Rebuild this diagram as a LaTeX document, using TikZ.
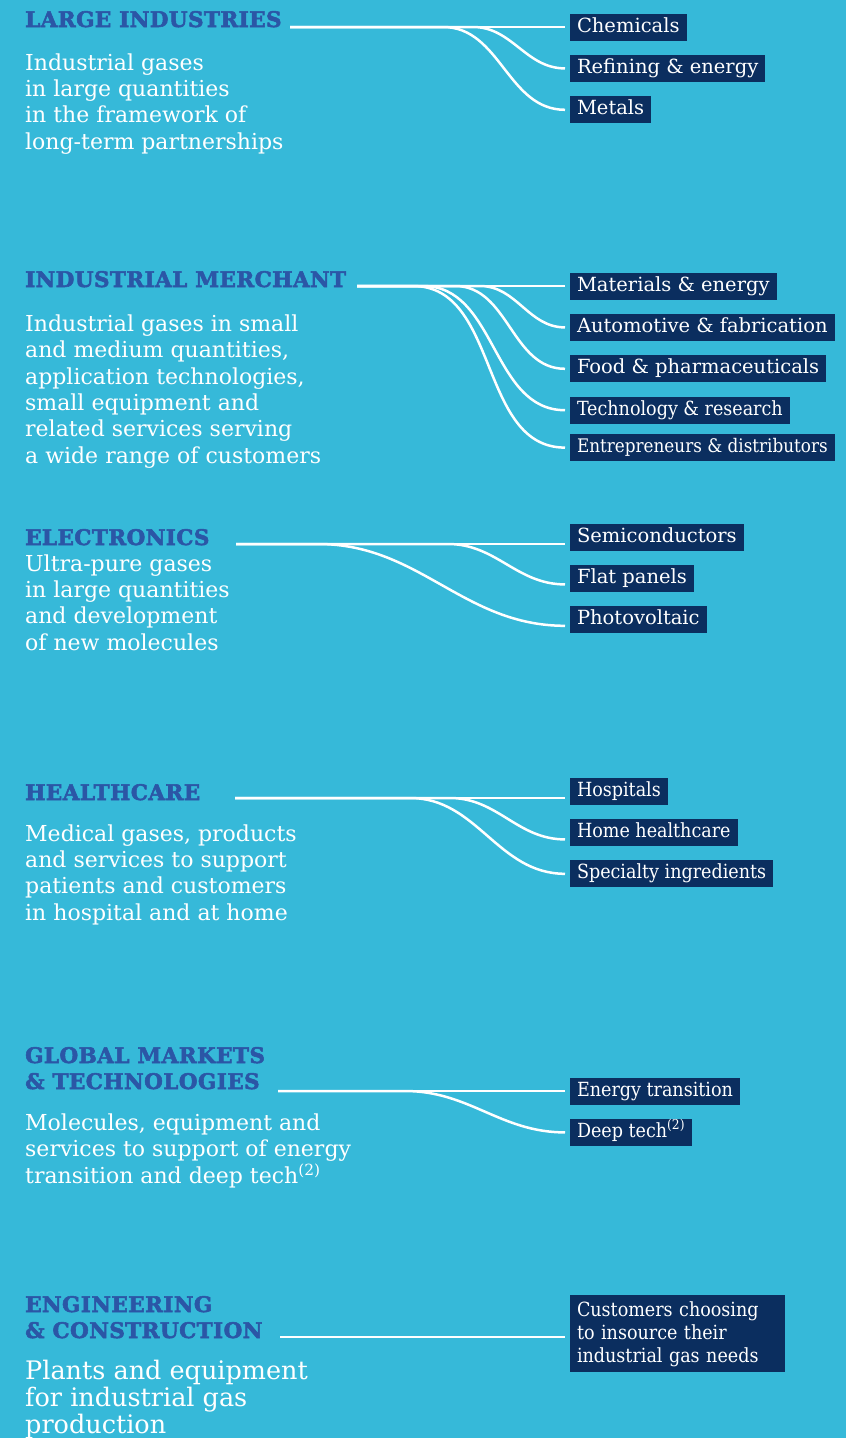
\documentclass[tikz,border=0pt]{standalone}
\usepackage{fontspec}
\setmainfont{DejaVu Serif}
\newfontfamily\narrowfont{DejaVu Serif Condensed}
\newfontfamily\headfont[FakeBold=2.5, LetterSpace=2]{DejaVu Serif Bold}
\usetikzlibrary{positioning}

\definecolor{sky}{HTML}{36B9D9}
\definecolor{ink}{HTML}{2B56A6}
\definecolor{navy}{HTML}{0B2E5F}

\begin{document}
\begin{tikzpicture}[x=1pt, y=-1pt]
  \tikzstyle{segment} = [anchor=base west, inner sep=0pt, align=left, text=ink,
    font=\headfont\fontsize{21.5}{26}\selectfont]
  \tikzstyle{blurb} = [anchor=base west, inner sep=0pt, align=left, text=white,
    font=\fontsize{22}{26.3}\selectfont]
  \tikzstyle{market} = [anchor=west, fill=navy, text=white, font=\narrowfont\fontsize{19.5}{23}\selectfont,
    inner xsep=7pt, inner ysep=4.5pt, text height=14pt, text depth=4pt, outer xsep=5pt]
  \tikzstyle{wide} = [font=\fontsize{19.5}{23}\selectfont]
  \tikzstyle{line} = [draw=white, line width=2.5pt]

  \useasboundingbox (0,0) rectangle (846,1438);
  \fill [sky] (0,0) rectangle (846,1438);

  % Large industries
  \node [segment] (large) at (25,27) {LARGE INDUSTRIES};
  \node [blurb] (largetxt) at (25,149) {Industrial gases\\in large quantities\\in the framework of\\long-term partnerships};
  \node [market, wide] (chem) at (565,27) {Chemicals};
  \node [market, wide, below=14pt of chem.south west, anchor=north west] (refin) {Refining \& energy};
  \node [market, wide, below=14pt of refin.south west, anchor=north west] (metals) {Metals};
  \coordinate (li) at (290,27);
  \path [line] (li) -- (chem.west);
  \path [line] (li) -- ++(183,0) to[out=0, in=180] (refin.west);
  \path [line] (li) -- ++(153,0) to[out=0, in=180] (metals.west);

  % Industrial merchant
  \node [segment] (merchant) at (25,287) {INDUSTRIAL MERCHANT};
  \node [blurb] (merchanttxt) at (25,463) {Industrial gases in small\\and medium quantities,\\application technologies,\\small equipment and\\related services serving\\a wide range of customers};
  \node [market, wide] (mater) at (565,286) {Materials \& energy};
  \node [market, wide, below=14pt of mater.south west, anchor=north west] (auto) {Automotive \& fabrication};
  \node [market, wide, below=14pt of auto.south west, anchor=north west] (food) {Food \& pharmaceuticals};
  \node [market, below=14pt of food.south west, anchor=north west] (tech) {Technology \& research};
  \node [market, font=\narrowfont\fontsize{18.7}{23}\selectfont,
    below=10pt of tech.south west, anchor=north west] (entre) {Entrepreneurs \& distributors};
  \coordinate (lm) at (357,286);
  \path [line] (lm) -- (mater.west);
  \path [line] (lm) -- ++(123,0) to[out=0, in=180] (auto.west);
  \path [line] (lm) -- ++(98,0) to[out=0, in=180] (food.west);
  \path [line] (lm) -- ++(66,0) to[out=0, in=180] (tech.west);
  \path [line] (lm) -- ++(56,0) to[out=0, in=180] (entre.west);

  % Electronics
  \node [segment] (electro) at (25,545) {ELECTRONICS};
  \node [blurb] (electrotxt) at (25,650) {Ultra-pure gases\\in large quantities\\and development\\of new molecules};
  \node [market, wide] (semi) at (565,537) {Semiconductors};
  \node [market, wide, below=14pt of semi.south west, anchor=north west] (flat) {Flat panels};
  \node [market, wide, below=14pt of flat.south west, anchor=north west] (photo) {Photovoltaic};
  \coordinate (le) at (236,544);
  \path [line] (le) -- (le -| semi.west);
  \path [line] (le) -- ++(212,0) to[out=0, in=180] ([yshift=-6pt]flat.west);
  \path [line] (le) -- ++(82,0) to[out=0, in=180] ([yshift=-6pt]photo.west);

  % Healthcare
  \node [segment] (health) at (25,800) {HEALTHCARE};
  \node [blurb] (healthtxt) at (25,920) {Medical gases, products\\and services to support\\patients and customers\\in hospital and at home};
  \node [market] (hosp) at (565,791) {Hospitals};
  \node [market, below=14pt of hosp.south west, anchor=north west] (home) {Home healthcare};
  \node [market, below=14pt of home.south west, anchor=north west] (spec) {Specialty ingredients};
  \coordinate (lh) at (235,798);
  \path [line] (lh) -- (lh -| hosp.west);
  \path [line] (lh) -- ++(215,0) to[out=0, in=180] ([yshift=-7pt]home.west);
  \path [line] (lh) -- ++(175,0) to[out=0, in=180] (spec.west);

  % Global markets & technologies
  \node [segment] (global) at (25,1089) {GLOBAL MARKETS\\\& TECHNOLOGIES};
  \node [blurb] (globaltxt) at (25,1183) {Molecules, equipment and\\services to support of energy\\transition and deep tech\textsuperscript{(2)}};
  \node [market] (energy) at (565,1091) {Energy transition};
  \node [market, below=14pt of energy.south west, anchor=north west] (deep) {Deep tech\textsuperscript{(2)}};
  \coordinate (lg) at (278,1091);
  \path [line] (lg) -- (energy.west);
  \path [line] (lg) -- ++(127,0) to[out=0, in=180] (deep.west);

  % Engineering & construction
  \node [segment] (engin) at (25,1338) {ENGINEERING\\\& CONSTRUCTION};
  \node [blurb, font=\fontsize{25.5}{27}\selectfont] (engintxt) at (25,1433) {Plants and equipment\\for industrial gas\\production};
  \node [market, anchor=north west, align=left, text height=, text depth=, inner ysep=6pt,
    text width=201pt, font=\narrowfont\fontsize{19.5}{23}\selectfont] (insource) at (565,1295) {Customers choosing\\to insource their\\industrial gas needs};
  \coordinate (lc) at (280,1337);
  \path [line] (lc) -- (lc -| insource.west);

\end{tikzpicture}
\end{document}
